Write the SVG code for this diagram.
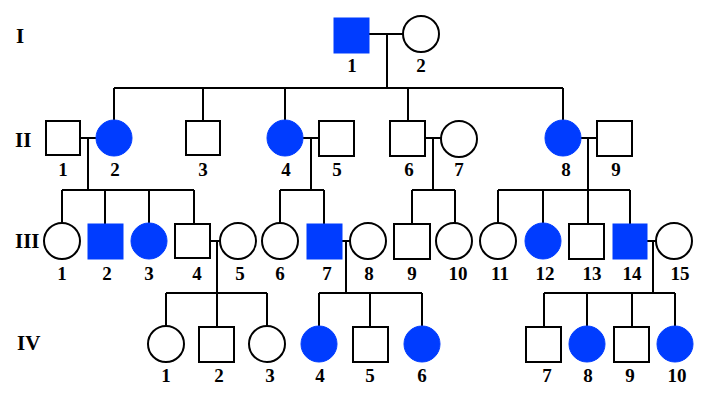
<svg xmlns="http://www.w3.org/2000/svg" width="703" height="399" viewBox="0 0 703 399">
<style>
.m{fill:#fff;stroke:#000;stroke-width:2}
.a{fill:#003cff;stroke:#003cff;stroke-width:1}
.l{fill:none;stroke:#000;stroke-width:2}
text{font-family:"Liberation Serif","Times New Roman",serif;font-weight:bold;font-size:19px;text-anchor:middle;fill:#000}
.g{font-size:21px;text-anchor:start}
</style>
<rect width="703" height="399" fill="#fff"/>
<g id="labels">
<text class="g" x="16" y="43">I</text>
<text class="g" x="15" y="147">II</text>
<text class="g" x="15" y="248">III</text>
<text class="g" x="17" y="350">IV</text>
</g>
<g id="connectors">
<path class="l" d="M369 34H403M387 34V88M114 88H563M114 88V120M203 88V121M285 88V120M408 88V121M563 88V120"/>
<path class="l" d="M80 138H96M88 138V190M62 190H194M62 190V223M105 190V224M149 190V223M194 190V224"/>
<path class="l" d="M303 138H319M311 138V190M280 190H324M280 190V223M324 190V224"/>
<path class="l" d="M425 138H441M433 138V190M412 190H455M412 190V224M455 190V223"/>
<path class="l" d="M581 138H597M588 138V190M498 190H630M498 190V223M543 190V223M588 190V224M630 190V224"/>
<path class="l" d="M210 241H220M217 241V293M166 293H267M166 293V326M217 293V327M267 293V326"/>
<path class="l" d="M342 241H350M346 241V293M319 293H422M319 293V326M370 293V327M422 293V326"/>
<path class="l" d="M647 241H656M653 241V293M544 293H675M544 293V327M587 293V326M632 293V327M675 293V326"/>
</g>
<g id="I-1"><rect class="a" x="334" y="18" width="35" height="35"/><text x="352" y="72">1</text></g>
<g id="I-2"><circle class="m" cx="421" cy="34" r="18"/><text x="421" y="72">2</text></g>
<g id="II-1"><rect class="m" x="46" y="121" width="34" height="34"/><text x="63" y="176">1</text></g>
<g id="II-2"><circle class="a" cx="114" cy="138" r="18"/><text x="115" y="176">2</text></g>
<g id="II-3"><rect class="m" x="186" y="121" width="34" height="34"/><text x="203" y="176">3</text></g>
<g id="II-4"><circle class="a" cx="285" cy="138" r="18"/><text x="286" y="176">4</text></g>
<g id="II-5"><rect class="m" x="319" y="121" width="35" height="35"/><text x="337" y="176">5</text></g>
<g id="II-6"><rect class="m" x="390" y="121" width="35" height="35"/><text x="409" y="176">6</text></g>
<g id="II-7"><circle class="m" cx="459" cy="139" r="18"/><text x="459" y="176">7</text></g>
<g id="II-8"><circle class="a" cx="563" cy="138" r="18"/><text x="566" y="176">8</text></g>
<g id="II-9"><rect class="m" x="597" y="121" width="35" height="35"/><text x="616" y="176">9</text></g>
<g id="III-1"><circle class="m" cx="62" cy="241" r="18"/><text x="62" y="280">1</text></g>
<g id="III-2"><rect class="a" x="88" y="224" width="35" height="35"/><text x="107" y="280">2</text></g>
<g id="III-3"><circle class="a" cx="149" cy="241" r="18"/><text x="149" y="280">3</text></g>
<g id="III-4"><rect class="m" x="175" y="224" width="35" height="34"/><text x="197" y="280">4</text></g>
<g id="III-5"><circle class="m" cx="238" cy="241" r="18"/><text x="240" y="280">5</text></g>
<g id="III-6"><circle class="m" cx="280" cy="241" r="18"/><text x="280" y="280">6</text></g>
<g id="III-7"><rect class="a" x="307" y="224" width="35" height="35"/><text x="327" y="280">7</text></g>
<g id="III-8"><circle class="m" cx="368" cy="241" r="18"/><text x="369" y="280">8</text></g>
<g id="III-9"><rect class="m" x="394" y="224" width="36" height="35"/><text x="412" y="280">9</text></g>
<g id="III-10"><circle class="m" cx="454" cy="241" r="18"/><text x="458" y="280">10</text></g>
<g id="III-11"><circle class="m" cx="498" cy="241" r="18"/><text x="500" y="280">11</text></g>
<g id="III-12"><circle class="a" cx="543" cy="241" r="18"/><text x="545" y="280">12</text></g>
<g id="III-13"><rect class="m" x="569" y="224" width="35" height="35"/><text x="592" y="280">13</text></g>
<g id="III-14"><rect class="a" x="613" y="224" width="34" height="35"/><text x="632" y="280">14</text></g>
<g id="III-15"><circle class="m" cx="674" cy="241" r="18"/><text x="680" y="280">15</text></g>
<g id="IV-1"><circle class="m" cx="166" cy="344" r="18"/><text x="166" y="382">1</text></g>
<g id="IV-2"><rect class="m" x="199" y="327" width="35" height="35"/><text x="219" y="382">2</text></g>
<g id="IV-3"><circle class="m" cx="267" cy="344" r="18"/><text x="270" y="382">3</text></g>
<g id="IV-4"><circle class="a" cx="319" cy="344" r="18"/><text x="320" y="382">4</text></g>
<g id="IV-5"><rect class="m" x="353" y="327" width="35" height="35"/><text x="370" y="382">5</text></g>
<g id="IV-6"><circle class="a" cx="422" cy="344" r="18"/><text x="422" y="382">6</text></g>
<g id="IV-7"><rect class="m" x="526" y="327" width="35" height="35"/><text x="547" y="382">7</text></g>
<g id="IV-8"><circle class="a" cx="587" cy="344" r="18"/><text x="588" y="382">8</text></g>
<g id="IV-9"><rect class="m" x="614" y="327" width="35" height="35"/><text x="630" y="382">9</text></g>
<g id="IV-10"><circle class="a" cx="675" cy="344" r="18"/><text x="677" y="382">10</text></g>
</svg>
